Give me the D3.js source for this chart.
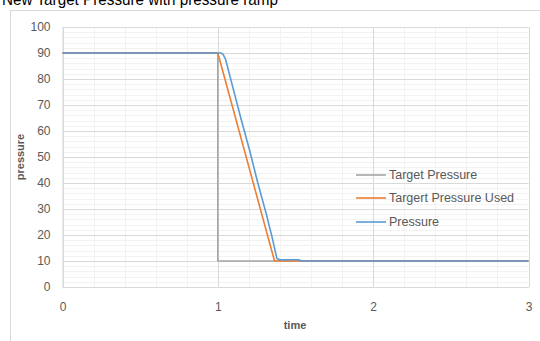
<!DOCTYPE html>
<html><head><meta charset="utf-8">
<script src="https://cdn.jsdelivr.net/npm/d3@7"></script>
<style>body{margin:0;background:#fff}svg{display:block}</style>
</head><body>
<svg id="c" width="540" height="341"></svg>
<script>
const title = "New Target Pressure with pressure ramp";
const seriesNames = ["Target Pressure", "Targert Pressure Used", "Pressure"];
const seriesColors = ["#a5a5a5", "#ed7d31", "#5b9bd5"];
const targetT = [0, 1, 1, 3];
const targetP = [90, 90, 10, 10];
const usedT = [0, 1, 1.365, 1.53, 3];
const usedP = [90, 90, 10, 10, 10];
const pressT = [0, 1.02, 1.035, 1.05, 1.1, 1.15, 1.204, 1.258, 1.311, 1.35, 1.38, 1.40, 1.52, 1.54, 3];
const pressP = [90, 90, 89.4, 87.5, 76, 64.5, 52.7, 39.9, 28.3, 19, 11, 10.5, 10.5, 10, 10];
const xTicks = [0, 1, 2, 3];
const yTicks = [0, 10, 20, 30, 40, 50, 60, 70, 80, 90, 100];

const svg = d3.select("#c");
const font = "'Liberation Sans', Arial, sans-serif";
const txt = "#595959";

// chart area border
svg.append("rect").attr("x", 10.5).attr("y", 10.5).attr("width", 560).attr("height", 360)
  .attr("fill", "none").attr("stroke", "#d9d9d9");

svg.append("text").attr("x", 2).attr("y", 5).text(title)
  .attr("font-family", font).attr("font-size", 17).attr("fill", "#000")
  .attr("textLength", 276).attr("lengthAdjust", "spacingAndGlyphs");

const x = d3.scaleLinear().domain([0, 3]).range([62.5, 528.5]);
const y = d3.scaleLinear().domain([0, 100]).range([287, 27]);

// minor grid
const g = svg.append("g");
g.selectAll(".mx").data(d3.range(0, 3.0001, 0.2)).join("line")
  .attr("x1", d => Math.round(x(d)) + 0.5).attr("x2", d => Math.round(x(d)) + 0.5)
  .attr("y1", y(100)).attr("y2", y(0)).attr("stroke", "#f2f2f2");
g.selectAll(".my").data(d3.range(0, 100.001, 2)).join("line")
  .attr("y1", d => Math.round(y(d)) + 0.5).attr("y2", d => Math.round(y(d)) + 0.5)
  .attr("x1", x(0)).attr("x2", x(3)).attr("stroke", "#f2f2f2");
// major grid
g.selectAll(".Mx").data(xTicks).join("line")
  .attr("x1", d => Math.round(x(d)) + 0.5).attr("x2", d => Math.round(x(d)) + 0.5)
  .attr("y1", y(100)).attr("y2", y(0)).attr("stroke", "#d9d9d9");
g.selectAll(".My").data(yTicks).join("line")
  .attr("y1", d => Math.round(y(d)) + 0.5).attr("y2", d => Math.round(y(d)) + 0.5)
  .attr("x1", x(0)).attr("x2", x(3)).attr("stroke", "#d9d9d9");

// axes
const ya = svg.append("g").attr("transform", `translate(${x(0)},0)`)
  .call(d3.axisLeft(y).tickValues(yTicks).tickSize(0).tickPadding(12));
const xa = svg.append("g").attr("transform", `translate(0,${y(0)})`)
  .call(d3.axisBottom(x).tickValues(xTicks).tickSize(0).tickPadding(15).tickFormat(d3.format("d")));
[ya, xa].forEach(a => {
  a.select(".domain").attr("stroke", "#d9d9d9");
  a.selectAll("text").attr("font-family", font).attr("font-size", 12).attr("fill", txt);
});

svg.append("text").attr("transform", `translate(24,157) rotate(-90)`).attr("text-anchor", "middle")
  .text("pressure").attr("font-family", font).attr("font-size", 11).attr("font-weight", "bold").attr("fill", txt);
svg.append("text").attr("x", 295).attr("y", 329).attr("text-anchor", "middle")
  .text("time").attr("font-family", font).attr("font-size", 11).attr("font-weight", "bold").attr("fill", txt);

// lines
const line = d3.line().x(d => x(d[0])).y(d => y(d[1]));
const series = [d3.zip(targetT, targetP), d3.zip(usedT, usedP), d3.zip(pressT, pressP)];
series.forEach((s, i) => {
  svg.append("path").datum(s).attr("d", line).attr("fill", "none")
    .attr("stroke", seriesColors[i]).attr("stroke-width", 1.6).attr("stroke-linejoin", "round");
});

// legend
const legY = [175, 198, 222];
seriesNames.forEach((n, i) => {
  svg.append("line").attr("x1", 356).attr("x2", 386).attr("y1", legY[i]).attr("y2", legY[i])
    .attr("stroke", seriesColors[i]).attr("stroke-width", 1.6);
  svg.append("text").attr("x", 389).attr("y", legY[i] + 4).text(n)
    .attr("font-family", font).attr("font-size", 12.5).attr("fill", txt);
});
</script>
</body></html>
